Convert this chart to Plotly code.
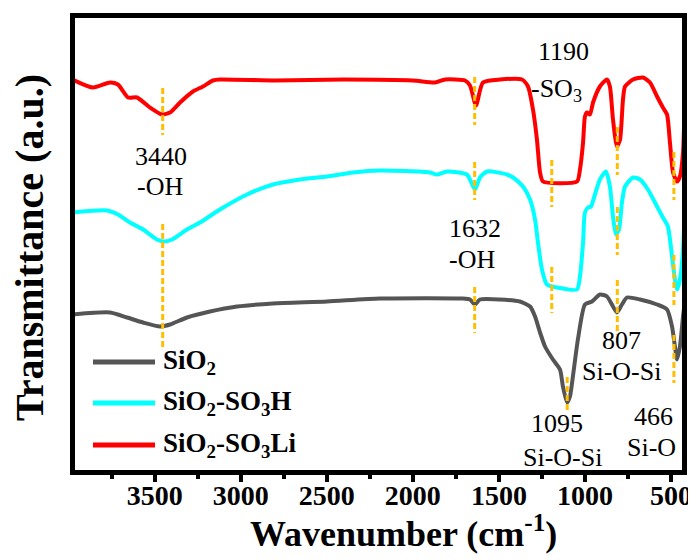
import plotly.graph_objects as go

# ---------------- data ----------------
series_names = ["SiO<sub>2</sub>", "SiO<sub>2</sub>-SO<sub>3</sub>H", "SiO<sub>2</sub>-SO<sub>3</sub>Li"]
series_colors = ["#555555", "#00FFFF", "#FF0000"]

sio2_wn = [3978, 3760, 3661, 3568, 3470, 3411, 3313, 3179, 3022, 2813, 2499, 2191, 1709, 1668,
           1639, 1610, 1494, 1378, 1319, 1290, 1261, 1232, 1186, 1145, 1128, 1104, 1087, 1070,
           1041, 1000, 959, 913, 872, 837, 814, 785, 756, 680, 581, 523, 494, 477, 465, 448,
           430, 423]
sio2_t = [158, 160, 155, 150, 146, 148, 155, 161, 166, 169, 171, 174, 174, 173,
          168, 173, 173, 171, 166, 156, 140, 126, 113, 103, 86, 70, 76, 96,
          133, 168, 171, 178, 176, 166, 160, 168, 175, 173, 168, 163, 146, 126, 113, 126,
          156, 166]

so3h_wn = [3978, 3778, 3714, 3644, 3568, 3487, 3452, 3400, 3313, 3237, 3121, 2964, 2813, 2656,
           2499, 2348, 2191, 1901, 1860, 1802, 1686, 1639, 1610, 1569, 1453, 1418, 1360, 1319,
           1290, 1273, 1250, 1221, 1163, 1046, 1029, 1011, 1000, 982, 965, 942, 913, 878,
           855, 837, 820, 802, 785, 767, 721, 680, 634, 581, 547, 518, 494, 477, 465, 448,
           430, 423]
so3h_t = [260, 262, 258, 250, 243, 233, 231, 233, 243, 250, 263, 278, 288, 293,
          296, 300, 302, 300, 298, 301, 298, 283, 295, 301, 298, 295, 286, 273,
          253, 230, 203, 188, 185, 183, 196, 230, 260, 265, 266, 278, 293, 301,
          286, 256, 238, 243, 270, 286, 295, 293, 283, 266, 255, 246, 216, 193, 183, 193,
          223, 253]

so3li_wn = [3978, 3859, 3760, 3714, 3655, 3603, 3528, 3458, 3411, 3353, 3278, 3220, 3162, 3121,
            2800, 2400, 2000, 1871, 1813, 1697, 1668, 1633, 1593, 1494, 1366, 1331, 1302, 1279,
            1261, 1244, 1046, 1029, 1011, 1000, 988, 971, 953, 913, 872, 855, 837, 814,
            796, 779, 767, 721, 663, 622, 581, 547, 523, 506, 488, 465, 448, 430, 423]
so3li_t = [393, 385, 390, 388, 375, 375, 365, 358, 360, 370, 381, 386, 392, 393,
           392, 393, 392, 390, 393, 392, 387, 367, 390, 393, 393, 386, 363, 333,
           300, 291, 291, 303, 330, 356, 360, 358, 370, 386, 393, 386, 353, 326,
           333, 373, 386, 393, 395, 390, 376, 365, 358, 330, 300, 291, 296, 320, 355]

x_tick_vals = [3500, 3000, 2500, 2000, 1500, 1000, 500]
x_tick_text = ["3500", "3000", "2500", "2000", "1500", "1000", "500"]

# peak marker lines: wavenumber and (top, bottom) segments in transmittance units
marker_wn = [3454, 1641, 1193, 1103, 812, 483]
marker_segments = [
    [(384.5, 337.5), (248.5, 122.5)],
    [(395.5, 347.5), (310.5, 272.5), (185.5, 139.5)],
    [(312.5, 265.5), (205.5, 159.5)],
    [(95.5, 60.5)],
    [(345.5, 297.5), (265.5, 217.5), (192.5, 137.5)],
    [(320.5, 272.5), (217.5, 167.5), (137.5, 89.5)],
]

# peak labels: text, wavenumber, transmittance
label_text = ["3440", "-OH", "1632", "-OH", "1190", "-SO<sub>3</sub>", "807", "Si-O-Si",
              "1095", "Si-O-Si", "466", "Si-O"]
label_wn = [3461, 3472, 1639, 1656, 1122, 1168, 785, 785, 1163, 1128, 599, 611]
label_t = [316.5, 286, 244.5, 213.5, 421.5, 383, 132.5, 101.5, 49.5, 15.5, 56.5, 25.5]

# ---------------- figure ----------------
# the page body has an 8px margin, so the figure is drawn 8px in from the window corner
OFF = 8
WIN_W, WIN_H = 696, 560
W, H = WIN_W - OFF, WIN_H - OFF
ML, MR, MT, MB = 75 - OFF, 14, 18 - OFF, 90
FONT = "Liberation Serif, Times New Roman, serif"

fig = go.Figure()
for wn, t, name, col in [(sio2_wn, sio2_t, series_names[0], series_colors[0]),
                         (so3h_wn, so3h_t, series_names[1], series_colors[1]),
                         (so3li_wn, so3li_t, series_names[2], series_colors[2])]:
    fig.add_trace(go.Scatter(x=wn, y=t, mode="lines", name=name,
                             line=dict(color=col, width=4, shape="spline", smoothing=0.6),
                             showlegend=False, hoverinfo="skip"))

shapes = []
for wn, segs in zip(marker_wn, marker_segments):
    for (y0, y1) in segs:
        shapes.append(dict(type="line", xref="x", yref="y", x0=wn, x1=wn, y0=y0, y1=y1,
                           line=dict(color="#FFBF00", width=3, dash="6px,3px"), layer="above"))

annotations = []
for txt, wn, t in zip(label_text, label_wn, label_t):
    annotations.append(dict(text=txt, x=wn, y=t, xref="x", yref="y", showarrow=False,
                            xanchor="center", yanchor="middle",
                            font=dict(family=FONT, size=26, color="black")))

# custom legend (paper coordinates), positions given in window pixels
pw = W - ML - MR
ph = H - MT - MB
def px_to_paper_x(px):
    return (px - OFF - ML) / pw
def py_to_paper_y(py):
    return (WIN_H - MB - py) / ph

legend_rows_py = [362, 403, 445]
for name, col, py in zip(series_names, series_colors, legend_rows_py):
    shapes.append(dict(type="line", xref="paper", yref="paper",
                       x0=px_to_paper_x(93), x1=px_to_paper_x(155),
                       y0=py_to_paper_y(py), y1=py_to_paper_y(py),
                       line=dict(color=col, width=5), layer="above"))
    annotations.append(dict(text="<b>" + name + "</b>", xref="paper", yref="paper",
                            x=px_to_paper_x(161), y=py_to_paper_y(py), showarrow=False,
                            xanchor="left", yanchor="middle",
                            font=dict(family=FONT, size=27, color="black")))

# axis titles
annotations.append(dict(text="<b>Wavenumber (cm<sup>-1</sup>)</b>", xref="paper", yref="paper",
                        x=px_to_paper_x(403), y=py_to_paper_y(531), showarrow=False,
                        xanchor="center", yanchor="middle",
                        font=dict(family=FONT, size=36, color="black")))
annotations.append(dict(text="<b>Transmittance (a.u.)</b>", xref="paper", yref="paper",
                        x=px_to_paper_x(29), y=py_to_paper_y(248), showarrow=False,
                        xanchor="center", yanchor="middle", textangle=-90,
                        font=dict(family=FONT, size=40, color="black")))

fig.update_layout(
    template="none",
    width=W, height=H,
    margin=dict(l=ML, r=MR, t=MT, b=MB, pad=0, autoexpand=False),
    paper_bgcolor="white", plot_bgcolor="white",
    shapes=shapes, annotations=annotations,
    showlegend=False,
)
fig.update_xaxes(range=[3963.5, 436], showgrid=False, zeroline=False, automargin=False,
                 showline=True, linecolor="black", linewidth=5, mirror=True,
                 ticks="outside", ticklen=7, tickwidth=4, tickcolor="black",
                 tickvals=x_tick_vals, ticktext=x_tick_text, ticklabelstandoff=-11,
                 tickfont=dict(family=FONT, size=28, color="black", weight="bold"),
                 minor=dict(dtick=250, tick0=250, ticks="outside", ticklen=4, tickwidth=4,
                            tickcolor="black", showgrid=False))
fig.update_yaxes(range=[2.5, 454.5], showgrid=False, zeroline=False, automargin=False,
                 showline=True, linecolor="black", linewidth=5, mirror=True,
                 ticks="", showticklabels=False)

fig.write_html("out.html")
